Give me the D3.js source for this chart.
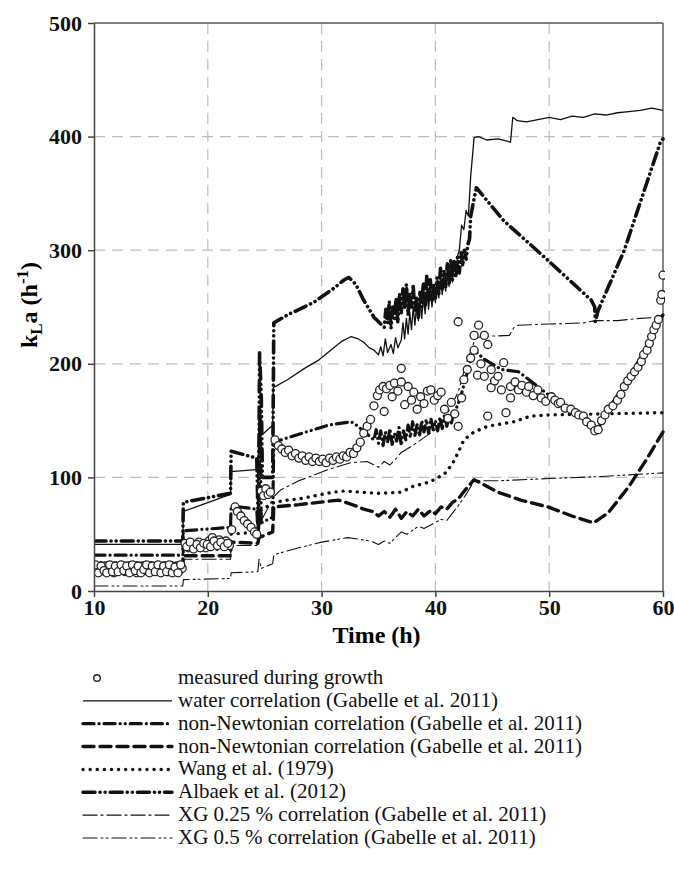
<!DOCTYPE html>
<html>
<head>
<meta charset="utf-8">
<script src="https://cdn.jsdelivr.net/npm/d3@7"></script>
<style>
  body { margin: 0; background: #fff; }
  text { font-family: "Liberation Serif", "Times New Roman", serif; }
</style>
</head>
<body>
<svg id="chart" width="674" height="871"></svg>
<script>
// values: [time (h), kLa (h-1)]
const measured = [
  [10.0,19],[10.25,21],[10.5,17],[10.75,20],[11.0,22],[11.25,18],[11.5,20],[11.75,16],[12.0,21],[12.25,19],
  [12.5,22],[12.75,17],[13.0,20],[13.25,18],[13.5,21],[13.75,16],[14.0,19],[14.25,22],[14.5,18],[14.75,20],
  [15.0,17],[15.25,21],[15.5,19],[15.75,22],[16.0,18],[16.25,20],[16.5,17],[16.75,21],[17.0,19],[17.25,22],
  [17.5,18],[17.75,20],
  [10.12,23],[10.38,16],[10.62,22],[10.88,18],[11.12,16],[11.38,23],[11.62,17],[11.88,22],[12.12,17],[12.38,23],
  [12.62,18],[12.88,22],[13.12,16],[13.38,23],[13.62,18],[13.88,22],[14.12,16],[14.38,19],[14.62,23],[14.88,16],
  [15.12,22],[15.38,17],[15.62,23],[15.88,16],[16.12,22],[16.38,17],[16.62,23],[16.88,16],[17.12,21],[17.38,16],
  [17.62,23],
  [18.0,42],[18.3,38],[18.6,41],[18.9,39],[19.2,43],[19.5,40],[19.8,38],[20.1,44],[20.4,47],[20.7,42],
  [21.0,45],[21.3,41],[21.6,44],[21.9,40],
  [18.15,39],[18.45,43],[18.75,37],[19.05,41],[19.35,38],[19.65,42],[19.95,41],[20.25,39],[20.55,44],[20.85,40],
  [21.15,43],[21.45,39],[21.75,42],
  [22.1,54],[22.4,74],[22.6,70],[22.9,66],[23.2,62],[23.5,59],[23.8,56],[24.1,52],[24.3,50],
  [24.7,88],[24.9,84],[25.1,90],[25.3,85],[25.5,87],
  [25.9,133],[26.2,128],[26.5,125],[26.8,122],[27.1,124],[27.4,119],[27.7,121],[28.0,117],[28.3,119],[28.6,115],
  [28.9,118],[29.2,114],[29.5,117],[29.8,114],[30.1,116],[30.4,113],[30.7,117],[31.0,115],[31.3,118],[31.6,116],
  [31.9,119],[32.2,118],[32.5,122],[32.8,121],[33.1,126],[33.4,131],[33.7,139],[34.0,145],[34.3,151],[34.6,163],
  [34.9,172],[35.1,177],[35.4,180],[35.5,158],[35.7,178],[36.0,181],[36.2,171],[36.4,183],[36.7,176],[37.0,196],
  [37.0,184],[37.3,164],[37.6,180],[37.9,168],[38.1,175],[38.4,160],[38.7,171],[39.0,165],[39.3,176],[39.6,177],
  [39.9,168],[40.2,172],[40.5,175],[40.8,160],[41.1,152],[41.4,166],[41.7,156],[42.0,145],[42.0,237],[42.3,170],
  [42.5,186],[42.8,195],[43.1,205],[43.4,212],[43.4,225],[43.8,234],[43.7,190],[44.0,200],[44.3,225],[44.3,189],
  [44.6,217],[44.6,154],[44.9,195],[44.9,179],[45.2,185],[45.5,189],[45.8,177],[46.0,201],[46.2,157],[46.6,180],
  [46.6,170],[47.0,184],[47.3,177],[47.6,181],[48.0,175],[48.2,180],[48.6,172],[49.0,177],[49.3,170],[49.7,167],
  [50.2,171],[50.5,168],[50.8,165],[51.0,166],[51.4,161],[51.9,160],[52.3,157],[52.6,155],[53.0,154],[53.3,149],
  [53.7,146],[54.0,141],[54.3,142],[54.6,150],[54.9,155],[55.2,160],[55.6,163],[56.0,168],[56.3,173],[56.6,180],
  [56.9,185],[57.2,189],[57.5,193],[57.8,197],[58.1,202],[58.3,208],[58.6,212],[58.8,218],[59.0,224],[59.2,230],
  [59.4,234],[59.6,239],[59.8,256],[59.9,261],[60.0,278]
];

const water = [
  [10,41],[17.8,41],[17.85,70],[22,85],[22.05,105],[24.4,107],[24.5,150],[24.6,136],[25.7,146],[25.75,179],
  [27,186],[28.5,196],[29.7,203],[30.8,212],[31.8,220],[32.6,224],[33.2,222],[33.7,219],[34.2,214],[34.6,212],
  [35.0,208],[35.2,215],[35.4,207],[35.6,222],[35.8,210],[36.1,217],[36.3,209],[36.5,223],[36.7,214],[37.0,221],
  [37.15,236],[37.3,222],[37.45,240],[37.6,226],[37.75,245],[37.9,230],[38.05,250],[38.2,234],[38.35,252],[38.5,238],
  [38.65,256],[38.8,240],[38.95,260],[39.1,244],[39.25,263],[39.4,248],[39.55,266],[39.7,250],[39.85,268],[40.0,254],
  [40.15,272],[40.3,258],[40.45,275],[40.6,261],[40.75,278],[40.9,264],[41.05,282],[41.2,268],[41.35,285],[41.5,272],
  [41.65,290],[41.8,278],[41.95,295],[42.1,300],[42.3,322],[42.5,318],[42.7,335],[42.9,330],[43.1,365],[43.4,399],
  [43.8,400],[44.5,397],[45.5,398],[46.3,396],[46.6,395],[46.8,417],[47.2,414],[48,413],[49,415],[50,417],
  [51,415],[52,418],[53,417],[54,420],[55,419],[56,421],[57,422],[58,423],[59,425],[60,423]
];

const nonNewtonianA = [
  [10,31.5],[17.8,31.5],[17.85,53],[22,56],[22.05,75],[24.3,72],[24.45,45],[24.6,160],[24.7,60],[25.7,65],
  [25.8,131],[28,138],[30.6,146],[32.6,149],[33.2,145],[34,138],[34.6,133],[34.8,142],[35,130],[35.2,141],
  [35.4,128],[35.6,140],[35.8,131],[36.0,143],[36.2,129],[36.4,139],[36.6,132],[36.8,144],[37,128],[37.2,141],
  [37.4,133],[37.6,146],[37.8,135],[38.0,149],[38.2,137],[38.4,147],[38.6,136],[38.8,150],[39,140],[39.2,151],
  [39.4,139],[39.6,152],[39.8,142],[40.0,150],[40.2,141],[40.4,153],[40.6,143],[40.8,155],[41,145],[41.2,154],
  [41.4,148],[41.6,156],[41.8,160],[42.2,170],[42.6,185],[43.0,200],[43.4,212],[44.3,204],[45.8,195],[47.3,193],
  [49,180],[51.3,162],[53,152],[54.1,139],[55.2,160],[56.5,180],[58,205],[59.8,241],[60,243]
];

const nonNewtonianB = [
  [10,21],[17.8,21],[17.85,31],[22,31],[22.05,43],[24.4,42],[24.5,47],[25.7,52],[25.8,74],[28,76],
  [30.6,79],[31.5,80],[33,75],[33.7,72],[34.5,70],[35.0,66],[35.5,70],[36.0,65],[36.5,72],[37.0,64],
  [37.5,70],[38.0,66],[38.5,72],[39.0,66],[39.6,71],[40.0,68],[40.5,74],[41.0,72],[41.5,78],[42,81],
  [42.7,90],[43.4,98],[45.5,87],[47.5,80],[49.9,74],[52,66],[53.9,60],[55.2,69],[57,92],[58.5,115],[60,140]
];

const wang = [
  [10,25],[17.8,25],[17.85,36],[22,37],[22.05,50],[24.4,52],[24.5,70],[25.8,78],[27,80],[28,81],[29,83],
  [30,85],[31,87],[32,88],[33.5,87],[35,86],[37,87],[38,92],[39.5,96],[40.8,103],[41.5,112],[42,122],
  [42.5,133],[43.4,140],[44.6,145],[46.9,149],[48.4,154],[50,155],[55,156],[60,157]
];

const albaek = [
  [10,44],[17.8,44],[17.85,78],[22,86],[22.05,123],[24.3,117],[24.45,50],[24.55,210],[24.7,170],[24.8,100],
  [25.7,100],[25.8,236],[27,243],[29.3,254],[31,266],[32,274],[32.4,276],[33,270],[33.7,256],[34.6,241],
  [35.5,232],[35.65,248],[35.8,236],[35.95,255],[36.1,231],[36.25,250],[36.4,240],[36.55,258],[36.7,236],[36.85,262],
  [37.0,245],[37.15,266],[37.3,248],[37.45,270],[37.6,243],[37.75,262],[37.9,250],[38.05,268],[38.2,246],[38.35,258],
  [38.5,241],[38.65,263],[38.8,250],[38.95,272],[39.1,252],[39.25,278],[39.4,256],[39.55,274],[39.7,255],[39.85,270],
  [40.0,258],[40.15,276],[40.3,262],[40.45,284],[40.6,266],[40.75,282],[40.9,268],[41.05,288],[41.2,270],[41.35,292],
  [41.5,274],[41.65,290],[41.8,276],[41.95,294],[42.1,280],[42.25,298],[42.4,286],[42.55,300],[42.7,292],[42.85,305],
  [43.0,310],[43.1,330],[43.6,355],[46,326],[49.9,291],[53.7,256],[54,250],[54.05,237],[54.3,247],[56.6,300],
  [59.8,396],[60,398]
];

const xg025 = [
  [10,17],[17.8,17],[17.85,28],[22,28],[22.05,40],[24.4,40],[24.6,60],[25.8,83],[26.4,89],[28,97],
  [30.6,107],[32.6,113],[34,114],[35,109],[35.5,114],[36,111],[36.5,116],[37,122],[38,128],[39,135],
  [40,142],[41,155],[42,175],[42.7,200],[43.5,222],[44,224],[46.5,225],[46.9,232],[47.3,234],[50,235],
  [53,236],[54,238],[56,238],[58,240],[60,241]
];

const xg05 = [
  [10,4.4],[17.8,4.4],[17.85,10],[22,11],[22.05,16],[24.4,17],[24.5,28],[24.7,20],[25.7,24],[25.8,32],
  [28,38],[30,43],[32.3,47],[33,46],[34.3,44],[35,41],[35.5,44],[36,42],[36.5,47],[37,52],[37.5,50],
  [38.5,57],[39,55],[40.5,63],[41,62],[42,75],[42.7,85],[43.4,97],[45.5,97],[50,99],[55,101],[60,104]
];

const xTicks = [10, 20, 30, 40, 50, 60];
const yTicks = [0, 100, 200, 300, 400, 500];

const legendLabels = [
  "measured during growth",
  "water correlation (Gabelle et al. 2011)",
  "non-Newtonian correlation (Gabelle et al. 2011)",
  "non-Newtonian correlation (Gabelle et al. 2011)",
  "Wang et al. (1979)",
  "Albaek et al. (2012)",
  "XG 0.25 % correlation (Gabelle et al. 2011)",
  "XG 0.5 % correlation (Gabelle et al. 2011)"
];

const series = [
  { data: water,         width: 1.3, dash: null },
  { data: nonNewtonianA, width: 3.2, dash: "11,5,0.1,5,11,5,0.1,5,0.1,5" },
  { data: nonNewtonianB, width: 3.4, dash: "11,6" },
  { data: wang,          width: 3.4, dash: "0.1,7" },
  { data: albaek,        width: 3.6, dash: "12,5,0.1,5,0.1,5" },
  { data: xg025,         width: 1.1, dash: "14,4,2,4" },
  { data: xg05,          width: 1.1, dash: "14,4,2,3,2,4" }
];

const svg = d3.select("#chart");
const pLeft = 94, pRight = 663, pTop = 23, pBottom = 591;

const x = d3.scaleLinear().domain([10, 60]).range([pLeft, pRight]);
const y = d3.scaleLinear().domain([0, 500]).range([pBottom, pTop]);

// grid
svg.append("g").selectAll("line")
  .data(xTicks.filter(d => d > 10 && d < 60))
  .enter().append("line")
  .attr("x1", d => x(d)).attr("x2", d => x(d))
  .attr("y1", pTop).attr("y2", pBottom)
  .attr("stroke", "#bdbdbd").attr("stroke-width", 1.2).attr("stroke-dasharray", "11,7");

svg.append("g").selectAll("line")
  .data(yTicks.filter(d => d > 0 && d < 500))
  .enter().append("line")
  .attr("x1", pLeft).attr("x2", pRight)
  .attr("y1", d => y(d)).attr("y2", d => y(d))
  .attr("stroke", "#bdbdbd").attr("stroke-width", 1.2).attr("stroke-dasharray", "11,7");

// frame top / right
svg.append("line").attr("x1", pLeft).attr("x2", pRight).attr("y1", pTop).attr("y2", pTop)
  .attr("stroke", "#555").attr("stroke-width", 1.4);
svg.append("line").attr("x1", pRight).attr("x2", pRight).attr("y1", pTop).attr("y2", pBottom)
  .attr("stroke", "#555").attr("stroke-width", 1.4);

svg.append("clipPath").attr("id", "plot")
  .append("rect").attr("x", pLeft).attr("y", pTop - 2).attr("width", pRight - pLeft + 2).attr("height", pBottom - pTop + 2);

const plot = svg.append("g").attr("clip-path", "url(#plot)");

const line = d3.line().x(d => x(d[0])).y(d => y(d[1]));

plot.selectAll(".series")
  .data(series)
  .enter().append("path")
  .attr("class", "series")
  .attr("d", d => line(d.data))
  .attr("fill", "none")
  .attr("stroke", "#111")
  .attr("stroke-width", d => d.width)
  .attr("stroke-linecap", d => d.dash ? "round" : "butt")
  .attr("stroke-linejoin", "round")
  .attr("stroke-dasharray", d => d.dash);

plot.selectAll(".pt")
  .data(measured)
  .enter().append("circle")
  .attr("class", "pt")
  .attr("cx", d => x(d[0]))
  .attr("cy", d => y(d[1]))
  .attr("r", 4)
  .attr("fill", "#fff")
  .attr("stroke", "#222")
  .attr("stroke-width", 1.3);

// axes
const yAxis = svg.append("g")
  .attr("transform", `translate(${pLeft},0)`)
  .call(d3.axisLeft(y).tickValues(yTicks).tickSize(6).tickSizeOuter(0).tickPadding(6));
const xAxis = svg.append("g")
  .attr("transform", `translate(0,${pBottom})`)
  .call(d3.axisBottom(x).tickValues(xTicks).tickSize(6).tickSizeOuter(0).tickPadding(2));

[yAxis, xAxis].forEach(a => {
  a.select(".domain").attr("stroke", "#444").attr("stroke-width", 1.5);
  a.selectAll(".tick line").attr("stroke", "#444").attr("stroke-width", 1.5);
  a.selectAll(".tick text")
    .attr("fill", "#111")
    .style("font-family", "'Liberation Serif', serif")
    .style("font-size", "22px")
    .style("font-weight", "bold");
});

// axis titles
svg.append("text")
  .attr("x", (pLeft + pRight) / 2 - 2).attr("y", 643)
  .attr("text-anchor", "middle")
  .style("font-size", "24px").style("font-weight", "bold")
  .text("Time (h)");

const yTitle = svg.append("text")
  .attr("transform", "translate(37,305) rotate(-90)")
  .attr("text-anchor", "middle")
  .style("font-size", "24px").style("font-weight", "bold");
yTitle.append("tspan").text("k");
yTitle.append("tspan").attr("dy", 5).style("font-size", "17px").text("L");
yTitle.append("tspan").attr("dy", -5).text("a (h");
yTitle.append("tspan").attr("dy", -9).style("font-size", "17px").text("-1");
yTitle.append("tspan").attr("dy", 9).text(")");

// legend
const legendY = d3.scalePoint().domain(d3.range(legendLabels.length)).range([678, 838]);
const leg = svg.append("g");
legendLabels.forEach((label, i) => {
  const yy = legendY(i);
  if (i === 0) {
    leg.append("circle").attr("cx", 97).attr("cy", yy).attr("r", 3.3)
      .attr("fill", "#fff").attr("stroke", "#222").attr("stroke-width", 1.4);
  } else {
    const s = series[i - 1];
    leg.append("line")
      .attr("x1", 83).attr("x2", 172).attr("y1", yy).attr("y2", yy)
      .attr("stroke", "#111")
      .attr("stroke-width", s.width)
      .attr("stroke-linecap", s.dash ? "round" : "butt")
      .attr("stroke-dasharray", s.dash);
  }
  leg.append("text")
    .attr("x", 178).attr("y", yy + 6)
    .style("font-size", "21px")
    .attr("fill", "#111")
    .text(label);
});
</script>
</body>
</html>
